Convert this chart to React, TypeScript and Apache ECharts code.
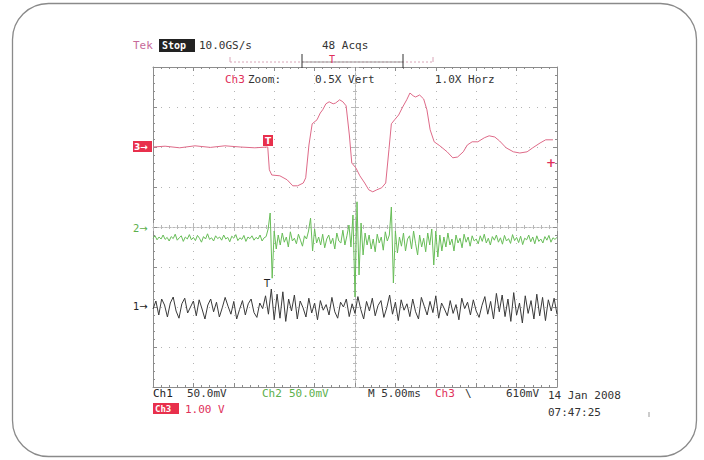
import React, { useEffect, useRef } from "react";
import * as echarts from "echarts";

// Time base: M 5.00 ms/div, 10 divisions -> -25..25 ms. Vertical in divisions (-4..4).
const T_MIN = -25;
const T_MAX = 25;
const X_TICK = 5;
const Y_MIN = -4;
const Y_MAX = 4;

// Ch3 (red) trace: time (ms) and level (div)
const RED_T = [
  -25.0, -23.5, -21.7, -19.8, -17.9, -16.1, -14.2, -12.4, -10.8, -10.6, -10.3, -9.3, -8.4, -7.7, -7.1, -6.4, -6.1,
  -5.7, -5.3, -4.7, -4.3, -4.0, -3.6, -3.2, -2.7, -2.4, -1.9, -1.5, -1.1, -0.7, -0.4, 0.1, 0.6, 1.2, 1.7, 2.2,
  2.7, 3.3, 3.8, 4.2, 4.5, 4.9, 5.4, 5.9, 6.4, 6.8, 7.2, 7.5, 8.0, 8.5, 8.9, 9.3, 9.8, 10.5, 11.4, 12.1, 12.7,
  13.4, 13.9, 14.5, 15.2, 16.0, 16.6, 17.3, 17.9, 18.7, 19.6, 20.4, 21.3, 22.0, 22.9, 23.6, 24.5,
];
const RED_V = [
  2.0, 2.02, 1.98, 2.03, 1.99, 2.03, 2.0, 1.98, 2.0, 1.43, 1.3, 1.28, 1.18, 1.03, 1.03, 1.1, 1.23,
  2.05, 2.58, 2.68, 2.85, 2.93, 3.08, 3.13, 3.08, 3.1, 3.18, 3.13, 3.03, 2.3, 1.6, 1.48, 1.28, 1.1, 0.93, 0.88,
  0.93, 0.98, 1.1, 1.93, 2.58, 2.68, 2.8, 3.0, 3.18, 3.35, 3.28, 3.25, 3.3, 3.2, 2.93, 2.43, 2.13, 2.03, 1.88, 1.73, 1.75,
  1.88, 2.05, 2.13, 2.13, 2.23, 2.28, 2.25, 2.15, 1.98, 1.88, 1.85, 1.88, 1.98, 2.1, 2.18, 2.18,
];

// Ch2 (green) trace, evenly sampled across the record (div)
const GREEN_V = [
  -0.28, -0.22, -0.32, -0.25, -0.30, -0.20, -0.31, -0.26, -0.35, -0.24,
  -0.29, -0.18, -0.33, -0.27, -0.22, -0.36, -0.25, -0.30, -0.19, -0.32,
  -0.26, -0.34, -0.21, -0.28, -0.38, -0.24, -0.30, -0.17, -0.31, -0.27,
  -0.35, -0.22, -0.29, -0.25, -0.33, -0.20, -0.30, -0.26, -0.37, -0.23,
  -0.28, -0.19, -0.34, -0.27, -0.31, -0.21, -0.36, -0.25, -0.29, -0.22,
  -0.33, -0.26, -0.30, -0.20, -0.35, -0.27, -0.24,
  -0.05, 0.35, -1.28, -0.10, -0.55,
  -0.20, -0.45, -0.15, -0.38, -0.25, -0.50, -0.12, -0.35, -0.28, -0.42, -0.18, -0.33, -0.48, -0.22, -0.30, -0.10,
  0.22, -0.60, -0.05, -0.40,
  -0.25, -0.45, -0.18, -0.52, -0.30, -0.20, -0.42, -0.28, -0.55, -0.15, -0.35, -0.40, -0.08, -0.45, -0.22, 0.05,
  -0.50, 0.30, -1.75, 0.63, -1.20, 0.10, -0.70, -0.15,
  -0.45, -0.20, -0.55, -0.30, -0.62, -0.18, -0.40, -0.25, -0.58, -0.12, -0.35, -0.20,
  0.50, -1.40, -0.10, -0.65,
  -0.25, -0.48, -0.15, -0.60, -0.30, -0.22, -0.55, -0.10, -0.42, -0.70, -0.20, -0.50, -0.28, -0.62, -0.15, -0.45, -0.05,
  -0.95, -0.10, -0.75, -0.20, -0.60,
  -0.25, -0.50, -0.15, -0.45, -0.30, -0.60, -0.20, -0.40, -0.28, -0.52, -0.18, -0.38, -0.25, -0.48, -0.22, -0.35, -0.30,
  -0.42, -0.22, -0.36, -0.18, -0.40, -0.28, -0.45, -0.24, -0.33, -0.20,
  -0.38, -0.27, -0.43, -0.21, -0.35, -0.29, -0.41, -0.19, -0.34, -0.26,
  -0.39, -0.23, -0.44, -0.28, -0.32, -0.20, -0.37, -0.25, -0.42, -0.22,
  -0.36, -0.30, -0.40, -0.24, -0.33, -0.21, -0.38, -0.27, -0.31, -0.26,
];

// Ch1 (black) trace, evenly sampled across the record (div)
const BLACK_V = [
  -2.05, -1.85, -2.20, -1.80, -1.95, -2.25, -1.90, -1.75, -2.10, -2.28,
  -1.92, -1.78, -2.15, -2.00, -1.85, -2.22, -1.82, -2.05, -2.30, -1.95,
  -1.80, -2.12, -1.88, -2.25, -2.02, -1.76, -1.98, -2.18, -1.86, -2.30,
  -2.06, -1.84, -2.20, -1.92, -1.80, -2.14, -2.26, -1.90, -2.04, -1.72,
  -2.18, -1.55, -2.32, -1.68, -2.28, -1.62, -2.36, -1.80, -2.10, -1.70,
  -2.30, -1.85, -2.02, -2.25, -1.78, -2.15, -1.90, -2.32, -1.84, -2.08,
  -1.94, -2.20, -1.76, -2.12, -2.28, -1.88, -2.00, -1.80, -2.24, -1.92,
  -2.16, -1.74, -2.06, -2.30, -1.86, -2.10, -1.78, -2.22, -1.96, -1.84,
  -2.26, -2.02, -1.70, -2.18, -1.88, -2.34, -1.82, -2.08, -1.92, -2.24,
  -1.80, -2.12, -2.30, -1.76, -1.98, -2.20, -1.86, -2.14, -1.72, -2.28,
  -1.90, -2.05, -2.22, -1.84, -2.16, -1.94, -2.32, -1.78, -2.04, -1.88,
  -2.20, -1.82, -2.10, -2.26, -1.96, -1.74, -2.18, -1.86, -2.30, -1.66,
  -2.12, -1.70, -2.24, -1.80, -2.36, -1.64, -2.20, -1.90, -2.40, -1.72,
  -2.16, -1.84, -2.30, -1.68, -2.22, -1.76, -2.34, -1.82, -2.10, -1.78,
  -2.18,
];

const FONT = "11px 'DejaVu Sans Mono', monospace";
const GRID_C = "#8c8c8c";
const CENTER_C = "#b8b8b8";

function sampled(values: number[]) {
  const step = (T_MAX - T_MIN) / (values.length - 1);
  return values.map((v, i) => [T_MIN + i * step, v]);
}

function txt(text: string, x: number, y: number, fill: string, font = FONT, extra: any = {}) {
  return {
    type: "text",
    x,
    y,
    z: 100,
    silent: true,
    style: { text, fill, font, verticalAlign: "middle", ...extra },
  };
}

function axisCfg(
  dim: "x" | "y",
  pos: string,
  onZero: boolean,
  inside: boolean,
  split: boolean,
) {
  const color = onZero ? CENTER_C : GRID_C;
  return {
    type: "value",
    min: dim === "x" ? T_MIN : Y_MIN,
    max: dim === "x" ? T_MAX : Y_MAX,
    interval: dim === "x" ? X_TICK : 1,
    position: pos,
    axisLine: {
      show: true,
      onZero,
      onZeroAxisIndex: onZero ? 0 : undefined,
      lineStyle: { color, width: 1, type: onZero ? [2, 2] : "solid" },
    },
    axisTick: { show: true, inside, length: 4, lineStyle: { color } },
    minorTick: { show: true, splitNumber: 5, length: 2, lineStyle: { color } },
    axisLabel: { show: false },
    splitLine: { show: split, lineStyle: { color: "#b4b4b4", type: [1, 7], width: 1 } },
  };
}

export default function App() {
  const ref = useRef<HTMLDivElement>(null);
  useEffect(() => {
    document.body.style.margin = "0";
    const chart = echarts.init(ref.current!, null, { renderer: "svg" });
    const red = RED_T.map((t, i) => [t, RED_V[i]]);
    const line = (name: string, data: number[][], color: string, z: number) => ({
      name,
      type: "line",
      data,
      showSymbol: false,
      silent: true,
      xAxisIndex: 0,
      yAxisIndex: 0,
      lineStyle: { color, width: 1 },
      z,
    });
    const option: any = {
      animation: false,
      backgroundColor: "#ffffff",
      grid: { left: 153, top: 67, width: 404, height: 320, containLabel: false },
      xAxis: [
        axisCfg("x", "bottom", false, true, true),
        axisCfg("x", "top", false, true, false),
        axisCfg("x", "bottom", true, true, false),
        axisCfg("x", "bottom", true, false, false),
      ],
      yAxis: [
        axisCfg("y", "left", false, true, true),
        axisCfg("y", "right", false, true, false),
        axisCfg("y", "left", true, true, false),
        axisCfg("y", "left", true, false, false),
      ],
      series: [
        line("Ch3", red, "#de6a88", 5),
        line("Ch2", sampled(GREEN_V), "#68bd58", 4),
        line("Ch1", sampled(BLACK_V), "#3a3a3a", 3),
      ],
      graphic: [
        // outer rounded frame
        {
          type: "rect",
          shape: { x: 12.5, y: 3.5, width: 684, height: 453, r: 36 },
          style: { fill: "none", stroke: "#8a8a8a", lineWidth: 1.3 },
          silent: true,
          z: 1,
        },
        // header
        txt("Tek", 133, 45, "#c76a9a"),
        { type: "rect", shape: { x: 159, y: 39, width: 36, height: 13 }, style: { fill: "#222" }, z: 99, silent: true },
        txt("Stop", 162, 45.5, "#ffffff", "bold 10px 'DejaVu Sans Mono', monospace"),
        txt("10.0GS/s", 199, 45, "#333"),
        txt("48 Acqs", 322, 45, "#333"),
        // record / zoom window bracket
        { type: "line", shape: { x1: 230, y1: 62, x2: 433, y2: 62 }, style: { stroke: "#d9a6b8", lineWidth: 1, lineDash: [2, 2] }, z: 99, silent: true },
        { type: "line", shape: { x1: 302, y1: 62, x2: 403, y2: 62 }, style: { stroke: "#999", lineWidth: 1 }, z: 99, silent: true },
        { type: "line", shape: { x1: 230, y1: 57, x2: 230, y2: 62 }, style: { stroke: "#d9a6b8", lineWidth: 1 }, z: 99, silent: true },
        { type: "line", shape: { x1: 433, y1: 57, x2: 433, y2: 62 }, style: { stroke: "#d9a6b8", lineWidth: 1 }, z: 99, silent: true },
        { type: "line", shape: { x1: 302, y1: 54, x2: 302, y2: 68 }, style: { stroke: "#333", lineWidth: 1 }, z: 99, silent: true },
        { type: "line", shape: { x1: 403, y1: 54, x2: 403, y2: 68 }, style: { stroke: "#333", lineWidth: 1 }, z: 99, silent: true },
        txt("T", 329, 59, "#e0305a", "10px 'DejaVu Sans Mono', monospace"),
        // zoom line
        txt("Ch3", 225, 79, "#e0305a"),
        txt("Zoom:", 248, 79, "#333"),
        txt("0.5X Vert", 315, 79, "#333"),
        txt("1.0X Horz", 435, 79, "#333"),
        // channel markers
        { type: "rect", shape: { x: 133, y: 141, width: 19, height: 11 }, style: { fill: "#e8304c" }, z: 99, silent: true },
        txt("3→", 134, 146.5, "#ffffff", "bold 9px 'DejaVu Sans', sans-serif"),
        txt("2→", 133, 228, "#5cb04c", "10px 'DejaVu Sans', sans-serif"),
        txt("1→", 133, 306, "#222", "10px 'DejaVu Sans', sans-serif"),
        // trigger markers
        { type: "rect", shape: { x: 263, y: 135, width: 10, height: 11 }, style: { fill: "#e8304c" }, z: 99, silent: true },
        txt("T", 265, 140.5, "#ffffff", "bold 9px 'DejaVu Sans', sans-serif"),
        txt("T", 264, 283, "#222", "10px 'DejaVu Sans', sans-serif"),
        txt("+", 546, 163, "#e0305a", "bold 12px 'DejaVu Sans', sans-serif"),
        // footer
        txt("Ch1", 153, 393, "#222"),
        txt("50.0mV", 187, 393, "#333"),
        txt("Ch2", 262, 393, "#5cb04c"),
        txt("50.0mV", 289, 393, "#5cb04c"),
        txt("M 5.00ms", 368, 393, "#333"),
        txt("Ch3", 435, 393, "#e0305a"),
        txt("\\", 465, 393, "#333"),
        txt("610mV", 506, 393, "#333"),
        { type: "rect", shape: { x: 153, y: 403, width: 26, height: 11 }, style: { fill: "#e8304c" }, z: 99, silent: true },
        txt("Ch3", 155, 408.5, "#ffffff", "bold 9px 'DejaVu Sans Mono', monospace"),
        txt("1.00 V", 185, 409, "#e0305a"),
        txt("14 Jan 2008", 548, 395, "#333"),
        txt("07:47:25", 548, 412, "#333"),
        { type: "line", shape: { x1: 649, y1: 412, x2: 649, y2: 417 }, style: { stroke: "#999", lineWidth: 1 }, z: 99, silent: true },
      ],
    };
    chart.setOption(option);
    return () => chart.dispose();
  }, []);
  return <div ref={ref} style={{ width: 704, height: 460 }} />;
}
